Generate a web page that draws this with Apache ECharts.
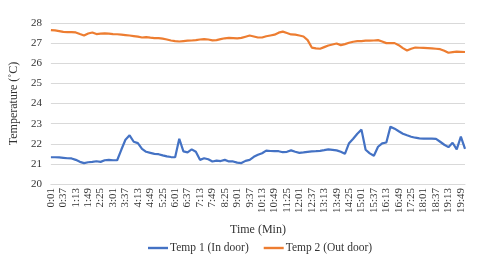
<!DOCTYPE html>
<html>
<head>
<meta charset="utf-8">
<script src="https://cdn.jsdelivr.net/npm/echarts@6/dist/echarts.min.js"></script>
<style>html,body{margin:0;padding:0;background:#fff;}#c{width:480px;height:254px;}</style>
</head>
<body>
<div id="c"></div>
<script>
const categories = [
"0:01","0:13","0:25","0:37","0:49","1:01","1:13","1:25","1:37","1:49",
"2:01","2:13","2:25","2:37","2:49","3:01","3:13","3:25","3:37","3:49",
"4:01","4:13","4:25","4:37","4:49","5:01","5:13","5:25","5:37","5:49",
"6:01","6:13","6:25","6:37","6:49","7:01","7:13","7:25","7:37","7:49",
"8:01","8:13","8:25","8:37","8:49","9:01","9:13","9:25","9:37","9:49",
"10:01","10:13","10:25","10:37","10:49","11:01","11:13","11:25","11:37","11:49",
"12:01","12:13","12:25","12:37","12:49","13:01","13:13","13:25","13:37","13:49",
"14:01","14:13","14:25","14:37","14:49","15:01","15:13","15:25","15:37","15:49",
"16:01","16:13","16:25","16:37","16:49","17:01","17:13","17:25","17:37","17:49",
"18:01","18:13","18:25","18:37","18:49","19:01","19:13","19:25","19:37","19:49",
"20:01"];

const temp1 = [
21.33,21.33,21.32,21.30,21.28,21.27,21.20,21.10,21.04,21.08,
21.10,21.13,21.10,21.18,21.20,21.18,21.18,21.70,22.20,22.42,
22.10,22.03,21.75,21.60,21.55,21.50,21.48,21.42,21.37,21.34,
21.33,22.25,21.62,21.57,21.72,21.60,21.20,21.28,21.23,21.12,
21.16,21.14,21.20,21.12,21.12,21.06,21.04,21.15,21.20,21.35,
21.45,21.53,21.66,21.64,21.63,21.63,21.58,21.60,21.67,21.60,
21.55,21.57,21.60,21.62,21.63,21.65,21.68,21.72,21.70,21.67,
21.60,21.50,22.03,22.25,22.50,22.70,21.70,21.52,21.40,21.85,
22.02,22.06,22.85,22.75,22.62,22.50,22.42,22.35,22.30,22.27,
22.25,22.25,22.25,22.24,22.10,21.95,21.83,22.05,21.72,22.35,
21.75];

const temp2 = [
27.65,27.63,27.60,27.56,27.55,27.55,27.53,27.45,27.38,27.48,
27.53,27.45,27.47,27.48,27.47,27.45,27.44,27.42,27.40,27.38,
27.35,27.32,27.28,27.30,27.27,27.25,27.25,27.22,27.18,27.13,
27.10,27.08,27.10,27.12,27.13,27.15,27.18,27.20,27.18,27.14,
27.15,27.20,27.24,27.26,27.25,27.24,27.26,27.32,27.38,27.33,
27.28,27.28,27.34,27.38,27.42,27.52,27.57,27.50,27.43,27.42,
27.38,27.33,27.15,26.78,26.74,26.72,26.80,26.88,26.93,26.98,
26.90,26.95,27.02,27.07,27.10,27.10,27.12,27.12,27.13,27.15,
27.08,27.00,27.00,27.00,26.90,26.75,26.63,26.72,26.78,26.77,
26.76,26.75,26.74,26.72,26.70,26.62,26.52,26.55,26.58,26.57,
26.56];

const seriesNames = ["Temp 1 (In door)", "Temp 2 (Out door)"];
const yTitle = "Temperature (\u02DAC)";
const xTitle = "Time (Min)";

const FONT = "Liberation Serif";
const chart = echarts.init(document.getElementById('c'), null, {renderer: 'canvas'});
chart.setOption({
  animation: false,
  backgroundColor: '#ffffff',
  textStyle: {fontFamily: FONT, color: '#333333'},
  grid: {left: 50, right: 15, top: 23, bottom: 70, containLabel: false},
  legend: {
    left: 143, top: 237, itemWidth: 20, itemHeight: 10, itemGap: 15,
    icon: 'path://M0,4 L20,4 L20,6.4 L0,6.4 Z',
    textStyle: {fontFamily: FONT, fontSize: 11.5, color: '#333333', padding: [0,0,0,-3]},
    data: seriesNames
  },
  xAxis: {
    type: 'category',
    data: categories,
    boundaryGap: false,
    name: xTitle,
    nameLocation: 'middle',
    nameGap: 40,
    nameTextStyle: {fontFamily: FONT, fontSize: 12, color: '#333333'},
    axisLine: {show: true, lineStyle: {color: '#D9D9D9'}},
    axisTick: {show: false},
    axisLabel: {interval: 2, rotate: 90, fontFamily: FONT, fontSize: 11, color: '#333333', margin: 4},
    splitLine: {show: false}
  },
  yAxis: {
    type: 'value',
    min: 20, max: 28, interval: 1,
    name: yTitle,
    nameLocation: 'middle',
    nameGap: 29,
    nameTextStyle: {fontFamily: FONT, fontSize: 12, color: '#333333'},
    axisLine: {show: false},
    axisTick: {show: false},
    axisLabel: {fontFamily: FONT, fontSize: 11, color: '#333333', margin: 9},
    splitLine: {lineStyle: {color: '#D9D9D9', width: 1}}
  },
  series: [
    {name: seriesNames[0], type: 'line', data: temp1, showSymbol: false, symbol: 'none',
     lineStyle: {color: '#4472C4', width: 2.2}, itemStyle: {color: '#4472C4'}},
    {name: seriesNames[1], type: 'line', data: temp2, showSymbol: false, symbol: 'none',
     lineStyle: {color: '#ED7D31', width: 2.2}, itemStyle: {color: '#ED7D31'}}
  ]
});
</script>
</body>
</html>
